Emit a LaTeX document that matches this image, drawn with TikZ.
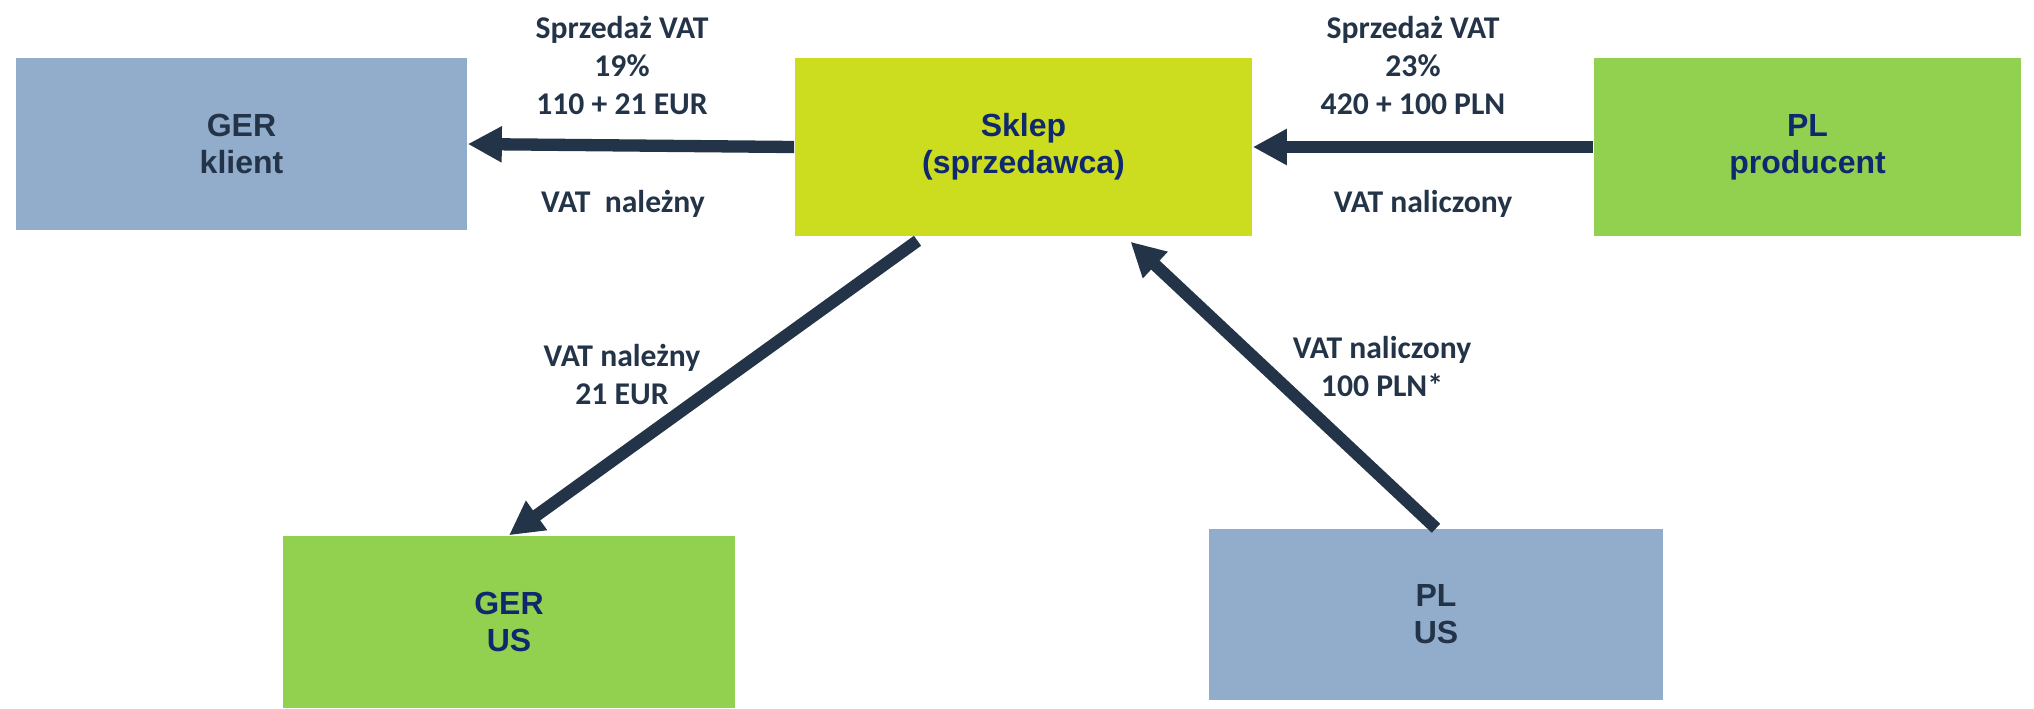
\documentclass[tikz,border=0pt]{standalone}
\usepackage{fontspec}
\setmainfont{Carlito}
\newfontfamily\boxfont{Liberation Sans}
\usetikzlibrary{arrows.meta,calc}
\definecolor{cBlue}{RGB}{146,172,203}
\definecolor{cLime}{RGB}{204,220,30}
\definecolor{cGreen}{RGB}{146,208,80}
\definecolor{cInk}{RGB}{36,52,72}
\definecolor{cNavy}{RGB}{16,40,110}

\begin{document}
\begin{tikzpicture}[x=0.01cm,y=-0.01cm,
   box/.style={inner sep=0pt,align=center,font=\boxfont\bfseries\fontsize{9.1}{10.5}\selectfont},
   bl/.style={box,fill=cBlue,text=cInk},
   gr/.style={box,fill=cGreen,text=cNavy},
   li/.style={box,fill=cLime,text=cNavy},
   lbl/.style={inner sep=0pt,align=center,text=cInk,font=\bfseries\fontsize{9}{10.8}\selectfont},
   a/.style={-{Triangle[length=3.4mm,width=3.4mm]},line width=3.5pt,cInk}]
  \useasboundingbox (0,0) rectangle (2034,708);
  % boxes
  \node[bl,minimum width=4.51cm,minimum height=1.72cm] (gerkl) at (241.5,144) {GER\\klient};
  \node[li,minimum width=4.57cm,minimum height=1.78cm] (sklep) at (1023.5,147) {Sklep\\(sprzedawca)};
  \node[gr,minimum width=4.27cm,minimum height=1.78cm] (plprod) at (1807.5,147) {PL\\producent};
  \node[gr,minimum width=4.52cm,minimum height=1.72cm] (gerus) at (509,622) {GER\\US};
  \node[bl,minimum width=4.54cm,minimum height=1.71cm] (plus) at (1436,614.5) {PL\\US};
  % flows
  \draw[a] (sklep.west) -- (gerkl.east);
  \draw[a] (plprod.west) -- (sklep.east);
  \draw[a] ($(sklep.south)+(-106,4)$) -- (gerus.north);
  \draw[a] (plus.north) -- ($(sklep.south)+(107,5)$);
  % labels
  \node[lbl] (sale1) at (622,65) {Sprzedaż VAT\\19\%\\110 + 21 EUR};
  \node[lbl,anchor=base] (due1) at (623,212) {VAT\ \ należny};
  \node[lbl] (sale2) at (1413,65) {Sprzedaż VAT\\23\%\\420 + 100 PLN};
  \node[lbl,anchor=base] (inp1) at (1423,212) {VAT naliczony};
  \node[lbl] (due2) at (622,374) {VAT należny\\21 EUR};
  \node[lbl] (inp2) at (1382,366.5) {VAT naliczony\\100 PLN*};
\end{tikzpicture}
\end{document}
